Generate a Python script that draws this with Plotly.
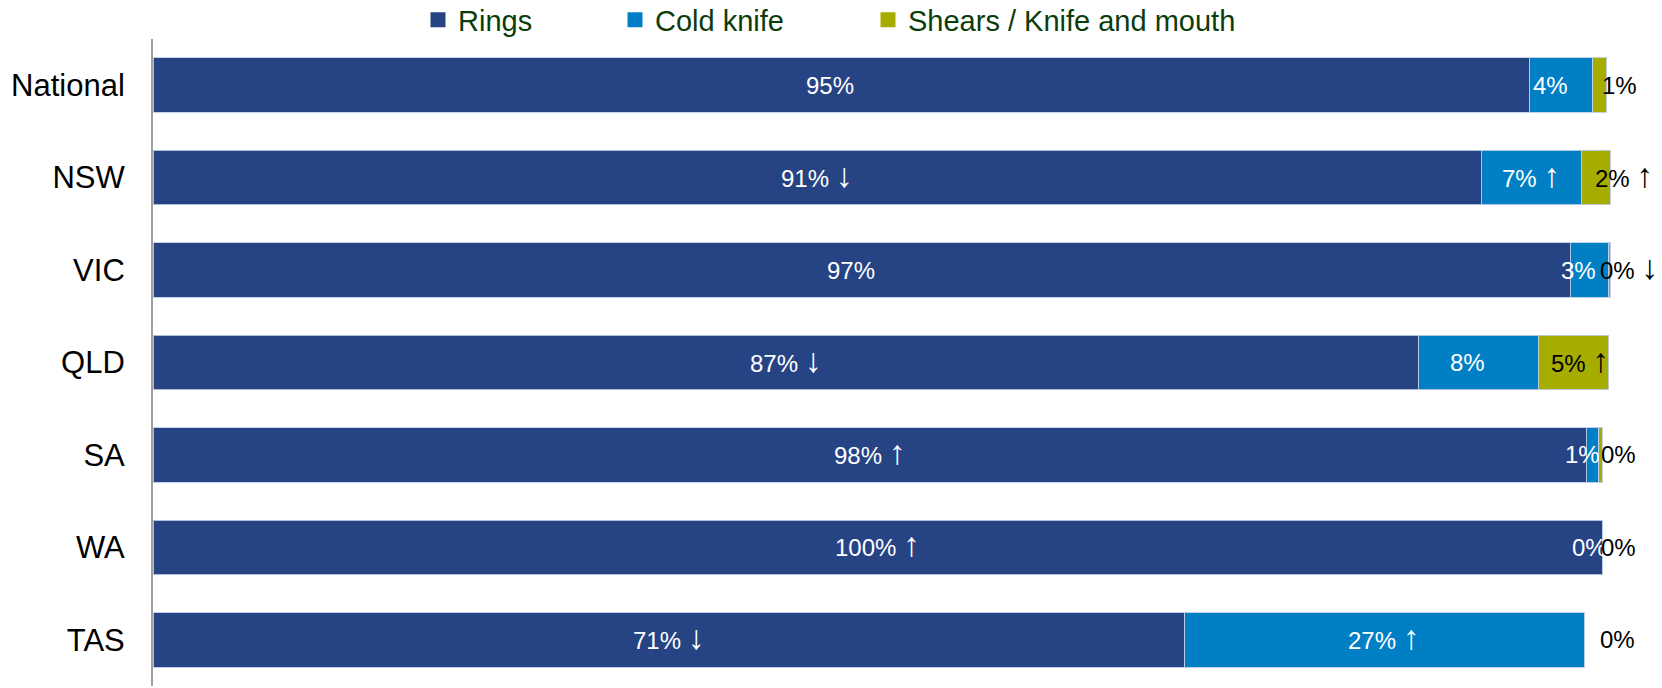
import plotly.graph_objects as go

# ---------------- data ----------------
categories = ["National", "NSW", "VIC", "QLD", "SA", "WA", "TAS"]
series_names = ["Rings", "Cold knife", "Shears / Knife and mouth"]
rings = [94.5, 91.15, 97.28, 86.89, 98.38, 99.48, 70.81]
cold_knife = [4.30, 6.86, 2.65, 8.17, 0.84, 0.0, 27.41]
shears = [0.96, 1.99, 0.07, 4.85, 0.25, 0.0, 0.0]
rings_labels = ["95%", "91% ↓", "97%", "87% ↓", "98% ↑", "100% ↑", "71% ↓"]
cold_labels = ["4%", "7% ↑", "3%", "8%", "1%", "0%", "27% ↑"]
shears_labels = ["1%", "2% ↑", "0% ↓", "5% ↑", "0%", "0%", "0%"]

# ---------------- styles / positions ----------------
colors = ["#264384", "#007FC5", "#A6AD00"]
label_colors = ["white", "white", "black"]
rings_shift = [-11, 0, -11, 0, 0, 0, 0]
cold_shift = [-11, 0, -11, -11, -10, -13, 0]
shears_shift = [20, 28, 20, 7, 18, 16, 33]

W, H = 1662, 688
ML, MR, MT, MB = 153, 0, 39, 2
PX_PER_PCT = 14.57
xmax = (W - ML - MR) / PX_PER_PCT

FONT = "Arial, 'Liberation Sans', sans-serif"

series = [rings, cold_knife, shears]
labels = [rings_labels, cold_labels, shears_labels]
shifts = [rings_shift, cold_shift, shears_shift]
legend_ids = ["legend", "legend2", "legend3"]
legend_left_px = [418, 615, 868]


def fmt(t):
    # render arrows taller, as in the reference
    for a in ("↑", "↓"):
        t = t.replace(a, f'<span style="font-size:34px">{a}</span>')
    return t


fig = go.Figure()
for i, (name, vals) in enumerate(zip(series_names, series)):
    fig.add_trace(go.Bar(
        y=categories, x=vals, name=name, orientation="h",
        marker=dict(color=colors[i], line=dict(color="rgba(190,205,230,0.9)", width=1)),
        showlegend=False, hoverinfo="skip",
    ))
# legend entries (square keys)
for i, name in enumerate(series_names):
    fig.add_trace(go.Scatter(
        x=[None], y=[None], mode="markers", name=name,
        marker=dict(symbol="square", size=15, color=colors[i]),
        legend=legend_ids[i], showlegend=True,
    ))

annotations = []
for i in range(3):
    for j, cat in enumerate(categories):
        start = sum(series[k][j] for k in range(i))
        center = start + series[i][j] / 2
        txt = labels[i][j]
        has_arrow = ("↑" in txt) or ("↓" in txt)
        annotations.append(dict(
            x=center, y=cat, xref="x", yref="y", text=fmt(txt),
            showarrow=False, xshift=shifts[i][j], yshift=3 if has_arrow else 0,
            font=dict(family=FONT, size=24, color=label_colors[i]),
            xanchor="center", yanchor="middle",
        ))

plot_w = W - ML - MR
plot_h = H - MT - MB
leg_y = (H - MB - 20) / plot_h
legend_layouts = {}
for lid, lpx in zip(legend_ids, legend_left_px):
    legend_layouts[lid] = dict(
        x=(lpx - ML) / plot_w, y=leg_y, xanchor="left", yanchor="middle",
        orientation="h", bgcolor="rgba(0,0,0,0)", borderwidth=0,
        font=dict(family=FONT, size=29, color="#0B3D0B"),
        itemwidth=30,
    )

fig.update_layout(
    width=W, height=H,
    margin=dict(l=ML, r=MR, t=MT, b=MB, autoexpand=False),
    barmode="stack", bargap=0.411,
    plot_bgcolor="white", paper_bgcolor="white",
    showlegend=True,
    annotations=annotations,
    xaxis=dict(range=[0, xmax], visible=False, fixedrange=True),
    yaxis=dict(
        categoryorder="array", categoryarray=categories, autorange="reversed",
        showline=True, linecolor="#A0A0A0", linewidth=2,
        showgrid=False, zeroline=False, ticks="", ticklabelstandoff=20,
        tickfont=dict(family=FONT, size=31, color="black"),
    ),
    **legend_layouts,
)

fig.write_html(
    "out.html",
    config={"displayModeBar": False},
    post_script="document.body.style.margin='0px'; document.body.style.overflow='hidden';",
)
